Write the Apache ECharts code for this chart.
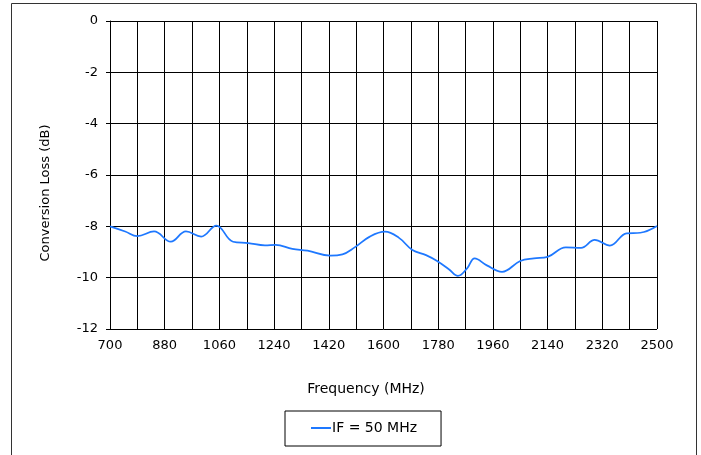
<!DOCTYPE html>
<html lang="en">
<head>
<meta charset="UTF-8">
<title>Conversion Loss</title>
<script src="https://cdn.jsdelivr.net/npm/echarts@6/dist/echarts.min.js"></script>
<style>
  html, body { margin: 0; padding: 0; background: #fff; }
</style>
</head>
<body>
<div id="main" style="width:701px;height:455px;"></div>
<script>
    // frequency (MHz) and conversion loss (dB)
    var freq = [700, 750, 790, 845, 900, 950, 1000, 1050, 1105, 1155, 1210, 1245, 1300, 1350,
        1425, 1465, 1505, 1555, 1605, 1650, 1695, 1740, 1775, 1815, 1845, 1875, 1900, 1940,
        1990, 2050, 2095, 2140, 2200, 2250, 2295, 2345, 2400, 2445, 2500];
    var loss = [-8.0, -8.2, -8.38, -8.2, -8.6, -8.2, -8.4, -7.97, -8.6, -8.65, -8.74, -8.72, -8.88, -8.95,
        -9.14, -9.09, -8.82, -8.4, -8.21, -8.44, -8.92, -9.12, -9.34, -9.67, -9.93, -9.64, -9.25, -9.52,
        -9.77, -9.35, -9.25, -9.19, -8.82, -8.84, -8.53, -8.75, -8.27, -8.25, -7.99];
    var xLabels = [700, 880, 1060, 1240, 1420, 1600, 1780, 1960, 2140, 2320, 2500];
    var seriesName = 'IF = 50 MHz';

    var font = 'DejaVu Sans';
    var points = freq.map(function (f, i) { return [f, loss[i]]; });

    var myChart = echarts.init(document.getElementById('main'));
    myChart.setOption({
        animation: false,
        textStyle: {fontFamily: font},
        graphic: [{
            type: 'rect',
            shape: {x: 11.5, y: 3.5, width: 685, height: 460},
            style: {fill: 'none', stroke: '#333', lineWidth: 1}
        }],
        grid: {left: 110, right: 44, top: 21, bottom: 126},
        legend: {
            data: [seriesName],
            left: 285,
            top: 411,
            padding: [10, 24, 11, 26],
            borderColor: '#000',
            borderWidth: 1,
            itemWidth: 20,
            itemHeight: 2,
            itemGap: 0,
            icon: 'rect',
            textStyle: {fontFamily: font, fontSize: 14, color: '#000', padding: [0, 0, 0, -4]}
        },
        xAxis: {
            type: 'value',
            min: 700,
            max: 2500,
            interval: 90,
            name: 'Frequency (MHz)',
            nameLocation: 'middle',
            nameGap: 53,
            nameTextStyle: {fontFamily: font, fontSize: 14, color: '#000', padding: [0, 35, 0, 0]},
            axisLine: {lineStyle: {color: '#000'}},
            axisTick: {show: true, length: 4, lineStyle: {color: '#000'}},
            axisLabel: {
                fontFamily: font, fontSize: 13, color: '#000', margin: 10,
                formatter: function (v) { return xLabels.indexOf(v) >= 0 ? String(v) : ''; }
            },
            splitLine: {show: true, lineStyle: {color: '#000', width: 1}}
        },
        yAxis: {
            type: 'value',
            min: -12,
            max: 0,
            interval: 2,
            name: 'Conversion Loss (dB)',
            nameLocation: 'middle',
            nameGap: 58,
            nameTextStyle: {fontFamily: font, fontSize: 13, color: '#000', padding: [0, 36, 0, 0]},
            axisLine: {show: true, lineStyle: {color: '#000'}},
            axisTick: {show: true, length: 4, lineStyle: {color: '#000'}},
            axisLabel: {fontFamily: font, fontSize: 13, color: '#000', margin: 12},
            splitLine: {show: true, lineStyle: {color: '#000', width: 1}}
        },
        series: [{
            name: seriesName,
            type: 'line',
            data: points,
            smooth: 0.4,
            showSymbol: false,
            lineStyle: {color: '#1e78ff', width: 1.75},
            itemStyle: {color: '#1e78ff'}
        }]
    });
</script>
</body>
</html>
